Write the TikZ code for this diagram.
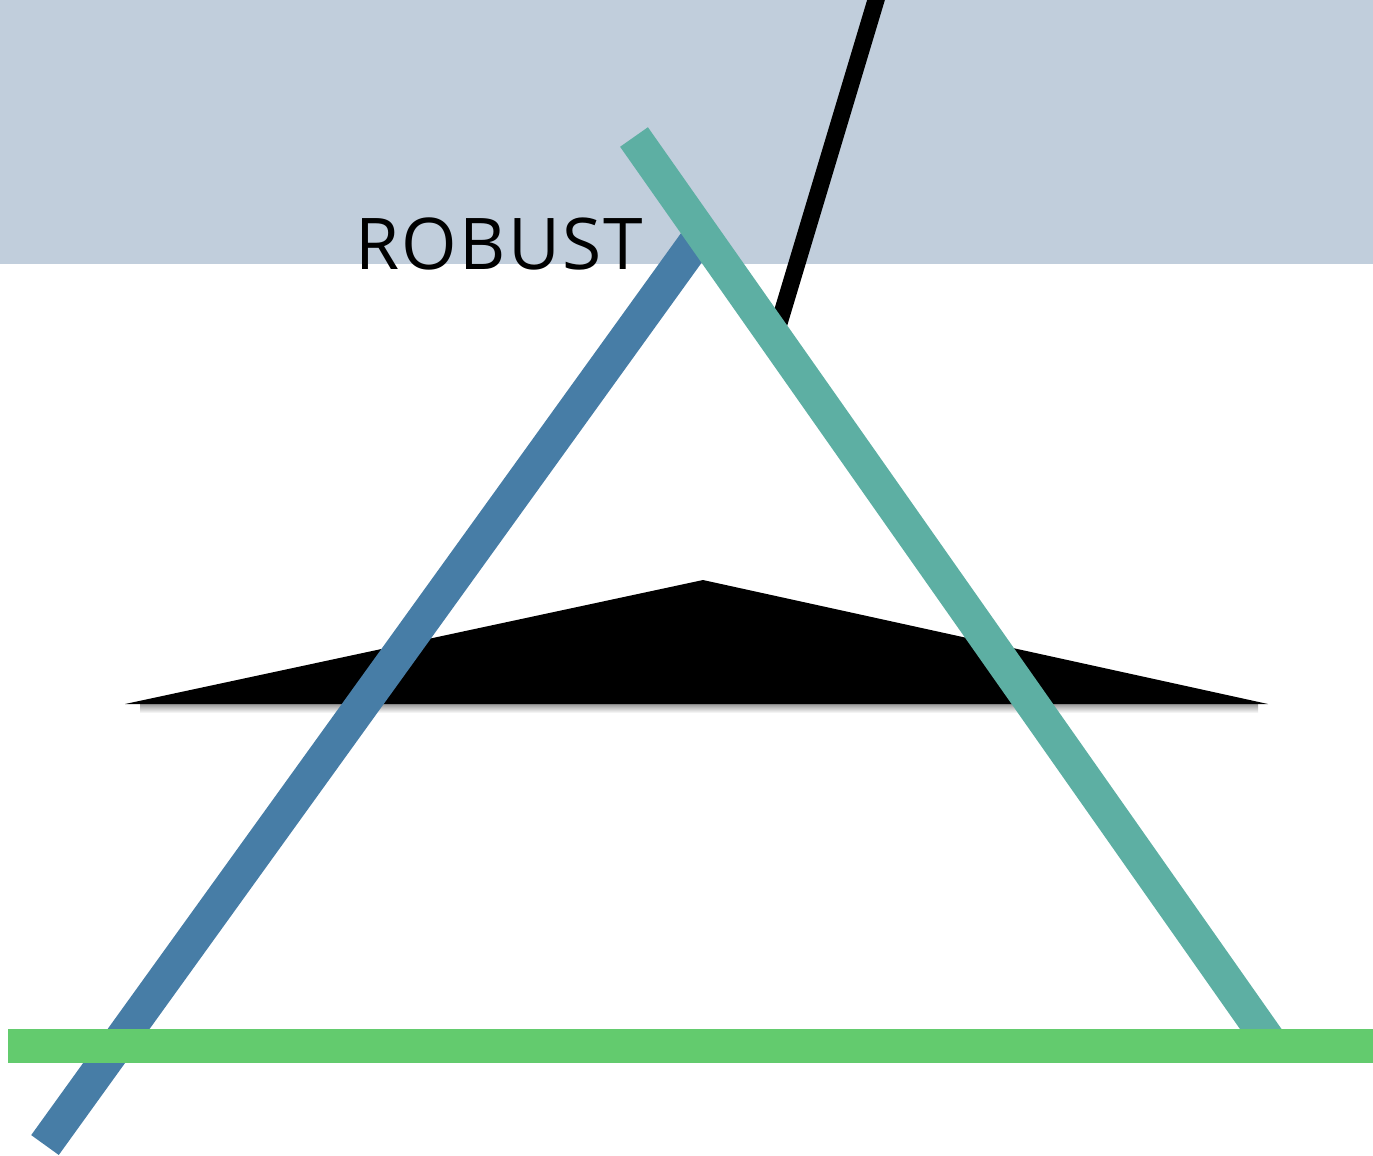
\documentclass[tikz,border=0pt]{standalone}
\usepackage{fontspec}
\usepackage{tikz}
\usetikzlibrary{positioning}
\newfontfamily\robustfont[LetterSpace=3]{Open Sans}
\definecolor{bandgray}{HTML}{C1CEDC}
\definecolor{legblue}{HTML}{477DA6}
\definecolor{legteal}{HTML}{5DAFA3}
\definecolor{basegreen}{HTML}{63CB6E}

\begin{document}
\begin{tikzpicture}[
    x=0.1mm, y=-0.1mm,
    legline/.style={line width=3.4mm, line cap=butt},
    needle/.style={line width=1.7mm, line cap=butt, black},
    labeltext/.style={font=\robustfont\fontsize{20.3}{24}\selectfont, inner sep=0pt, anchor=base west}
]
    \useasboundingbox (0,0) rectangle (1373,1155);
    \clip (0,0) rectangle (1373,1155);

    % top band and label
    \fill[bandgray] (0,0) rectangle (1373,264);
    \node[labeltext] (robust) at (355,269) {ROBUST};

    % end points
    \coordinate (peak) at (703,580);
    \coordinate (tipL) at (125,704);
    \coordinate (tipR) at (1268,704);
    \coordinate (needletop) at (879,-10);
    \coordinate (needlebot) at (774,340);
    \coordinate (bluebot) at (45,1145);
    \coordinate (bluetop) at (697,240);
    \coordinate (tealtop) at (634,137);
    \coordinate (tealbot) at (1272,1045);
    \coordinate (greenL) at (8,1046);
    \coordinate (greenR) at (1390,1046);

    % flat black wedge with soft shadow
    \shade[top color=black!40, bottom color=white] (140,704) rectangle (1258,713);
    \fill[black] (tipL) -- (peak) -- (tipR) -- cycle;

    \draw[needle] (needletop) -- (needlebot);
    \draw[legline, legblue] (bluebot) -- (bluetop);
    \draw[legline, legteal] (tealtop) -- (tealbot);
    \draw[legline, basegreen] (greenL) -- (greenR);
\end{tikzpicture}
\end{document}
